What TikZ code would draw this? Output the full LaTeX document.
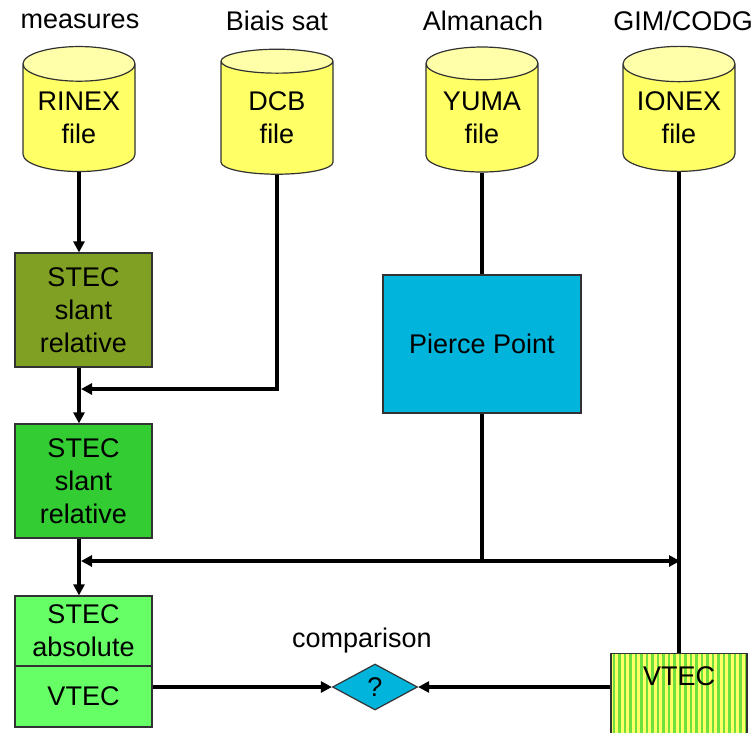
\documentclass[tikz,border=0pt]{standalone}
\usepackage{fontspec}
\setmainfont{Liberation Sans}
\usetikzlibrary{arrows.meta,shapes.geometric}

\definecolor{fileyellow}{RGB}{255,255,102}
\definecolor{filetop}{RGB}{255,255,170}
\definecolor{olivestec}{RGB}{128,160,36}
\definecolor{greenstec}{RGB}{51,204,51}
\definecolor{lightstec}{RGB}{102,255,102}
\definecolor{piercecyan}{RGB}{0,180,220}
\definecolor{stripegreen}{RGB}{110,225,60}
\definecolor{bordergray}{RGB}{50,50,50}

\begin{document}
\begin{tikzpicture}[x=1pt,y=1pt,
  every node/.style={font=\fontsize{27}{33}\selectfont, align=center, text=black},
  datafile/.style={cylinder, shape border rotate=90, aspect=0.42, draw=bordergray, line width=1.2pt,
    cylinder uses custom fill, cylinder body fill=fileyellow, cylinder end fill=filetop,
    minimum height=125pt, minimum width=112pt, inner sep=0pt},
  stecbox/.style={rectangle, draw=bordergray, line width=1.2pt, minimum width=137pt, inner sep=0pt},
  vtecbox/.style={rectangle, draw=bordergray, line width=1.2pt, fill=fileyellow, minimum width=136pt,
    inner ysep=6pt, text height=26pt, text depth=69pt,
    path picture={\foreach \k in {0,...,25}
      \fill[stripegreen] ([xshift=\k*5.5pt+1.5pt]path picture bounding box.south west) rectangle ++(2.75pt,200pt);}},
  link/.style={line width=3.2pt, black},
  arr/.style={link, -{Triangle[length=11pt,width=11pt]}},
]
\useasboundingbox (0,0) rectangle (756,-732);
\clip (0,0) rectangle (756,-732);
\node (measlbl) at (80,-21) {measures};
\node (biaislbl) at (277,-21) {Biais sat};
\node (almlbl) at (483,-21) {Almanach};
\node (gimlbl) at (683,-21) {GIM/CODG};
\node[datafile] (rinex) at (79,-118) {RINEX\\file};
\node[datafile] (dcb) at (277,-118) {DCB\\file};
\node[datafile] (yuma) at (482,-118) {YUMA\\file};
\node[datafile] (ionex) at (679,-118) {IONEX\\file};
\node[stecbox, fill=olivestec, minimum height=114pt] (stec1) at (83.5,-310) {STEC\\slant\\relative};
\node[stecbox, fill=greenstec, minimum height=114pt] (stec2) at (83.5,-481) {STEC\\slant\\relative};
\node[stecbox, fill=lightstec, minimum height=70pt] (stecabs) at (83.5,-631) {STEC\\absolute};
\node[stecbox, fill=lightstec, minimum height=61pt] (vtecl) at (83.5,-696.5) {VTEC};
\node[rectangle, draw=bordergray, line width=1.2pt, fill=piercecyan, minimum width=198pt, minimum height=138pt] (pierce) at (482,-344) {Pierce Point};
\node[diamond, draw=bordergray, line width=1.2pt, fill=piercecyan, aspect=1.85, minimum width=85pt, minimum height=46pt, inner sep=0pt] (cmp) at (375,-687) {?};
\node (cmplbl) at (362,-641) {comparison};
\node[vtecbox, anchor=north] (vtecr) at (679,-653) {VTEC};
\coordinate (dcbin) at (81,-389);
\coordinate (tecin) at (81,-561);
\coordinate (ionin) at (680,-561);
\coordinate (ppj) at (pierce.south |- tecin);
\draw[arr] (rinex.south) -- (rinex.south |- stec1.north);
\draw[arr] (dcb.south) |- (dcbin);
\draw[arr] (stec1.south -| rinex.south) -- (stec2.north -| rinex.south);
\draw[link] (yuma.south) -- (pierce.north);
\draw[link] (pierce.south) -- (ppj);
\draw[arr] (ppj) -- (tecin);
\draw[arr] (ppj) -- (ionin);
\draw[link] (ionex.south) -- (vtecr.north);
\draw[arr] (stec2.south -| rinex.south) -- (stecabs.north -| rinex.south);
\draw[arr] (vtecl.east |- cmp) -- (cmp.west);
\draw[arr] (vtecr.west |- cmp) -- (cmp.east);
\end{tikzpicture}
\end{document}
